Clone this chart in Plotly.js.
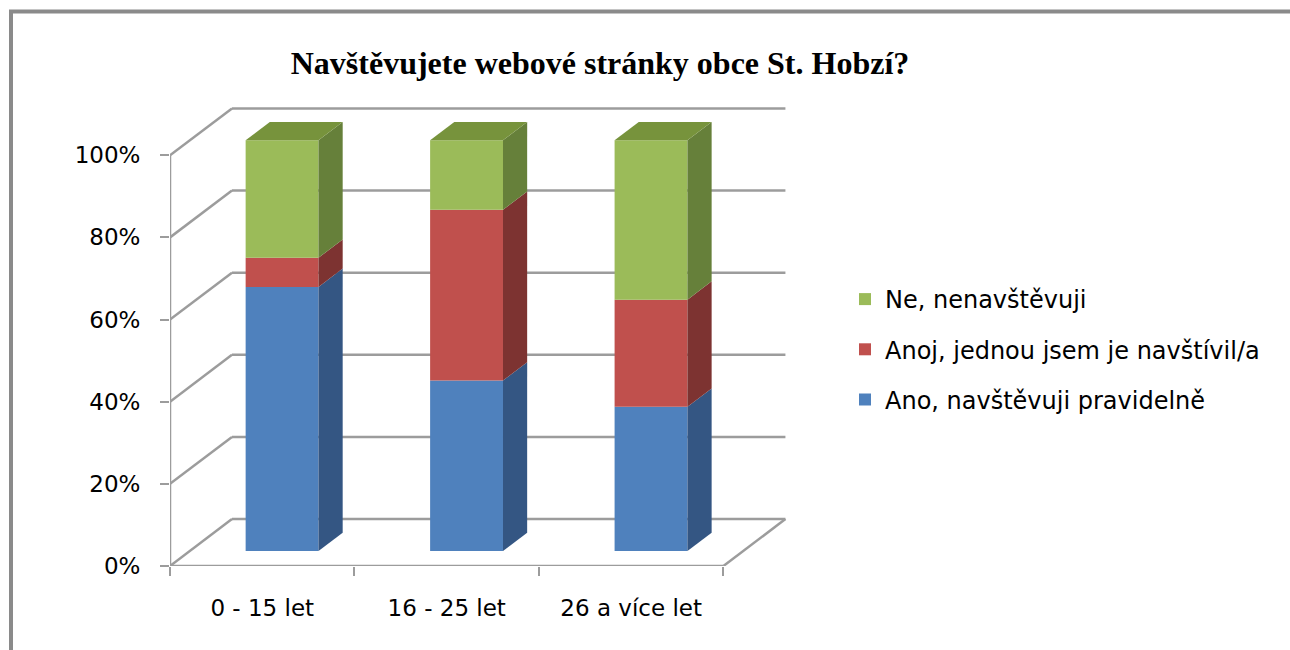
<!DOCTYPE html>
<html>
<head>
<meta charset="utf-8">
<script src="https://cdn.plot.ly/plotly-3.0.1.min.js"></script>
<style>html,body{margin:0;padding:0;background:#fff;}#chart{width:1290px;height:650px;}</style>
</head>
<body>
<div id="chart"></div>
<script>
// ---- data ----
const categories = ['0 - 15 let', '16 - 25 let', '26 a více let'];
const seriesNames = ['Ano, navštěvuji pravidelně', 'Anoj, jednou jsem je navštívil/a', 'Ne, nenavštěvuji'];
const anoPravidelne = [64.3, 41.5, 35.1];
const anojJednou = [7.1, 41.6, 26.1];
const neNenavstevuji = [28.6, 16.9, 38.8];
const yTickValues = [0, 20, 40, 60, 80, 100];
const yTickLabels = ['0%', '20%', '40%', '60%', '80%', '100%'];
const chartTitle = 'Navštěvujete webové stránky obce St. Hobzí?';

// ---- styling / pseudo-3D geometry ----
const frontColors = ['#4F81BD', '#C0504D', '#9BBB59'];
const sideColors = ['#345683', '#7D3331', '#66803A'];
const topColor = '#77933C';
const X_DEPTH = 0.336, Y_DEPTH = 11.42;   // full floor depth in axis units
const D_FRONT = 0.32, D_BACK = 0.71;      // bar depth position (fraction of floor)
const BAR_W = 0.395;
const X_MIN = -0.5, X_MAX = categories.length - 0.5;
const gridColor = '#9c9c9c';
const M = {l: 170, r: 502, t: 105.6, b: 83.5};
const FONT = '"DejaVu Sans", sans-serif';

const seriesValues = [anoPravidelne, anojJednou, neNenavstevuji];
const xFront = categories.map((c, i) => i + D_FRONT * X_DEPTH);
const yFrontOff = D_FRONT * Y_DEPTH;
const ddx = (D_BACK - D_FRONT) * X_DEPTH, ddy = (D_BACK - D_FRONT) * Y_DEPTH;

const traces = [];
const cum = categories.map(() => 0);
seriesValues.forEach((vals, s) => {
  const bases = cum.map(c => c + yFrontOff);
  traces.push({
    type: 'bar', x: xFront, y: vals, base: bases, width: BAR_W,
    name: seriesNames[s], legendgroup: 'g' + s, legendrank: 10 - s,
    marker: {color: frontColors[s], line: {width: 0}},
    hoverinfo: 'skip'
  });
  vals.forEach((v, i) => {
    const xr = xFront[i] + BAR_W / 2;
    const b = bases[i], t = bases[i] + v;
    traces.push({
      type: 'scatter', mode: 'lines', fill: 'toself', showlegend: false, hoverinfo: 'skip',
      x: [xr, xr + ddx, xr + ddx, xr, xr],
      y: [b, b + ddy, t + ddy, t, b],
      fillcolor: sideColors[s], line: {width: 0, color: sideColors[s]}
    });
  });
  vals.forEach((v, i) => { cum[i] += v; });
});
// top faces
categories.forEach((c, i) => {
  const xl = xFront[i] - BAR_W / 2, xr = xFront[i] + BAR_W / 2;
  const T = cum[i] + yFrontOff;
  traces.push({
    type: 'scatter', mode: 'lines', fill: 'toself', showlegend: false, hoverinfo: 'skip',
    x: [xl, xr, xr + ddx, xl + ddx, xl],
    y: [T, T, T + ddy, T + ddy, T],
    fillcolor: topColor, line: {width: 0, color: topColor}
  });
});

// walls / floor as shapes below the traces
const shapes = [];
const ln = (x0, y0, x1, y1) => ({type: 'line', xref: 'x', yref: 'y', x0, y0, x1, y1, layer: 'below',
  line: {color: gridColor, width: 2.5}});
yTickValues.forEach(v => {
  shapes.push(ln(X_MIN, v, X_MIN + X_DEPTH, v + Y_DEPTH));
  shapes.push(ln(X_MIN + X_DEPTH, v + Y_DEPTH, X_MAX + X_DEPTH, v + Y_DEPTH));
});
shapes.push(ln(X_MIN, 0, X_MAX, 0));
shapes.push(ln(X_MAX, 0, X_MAX + X_DEPTH, Y_DEPTH));
shapes.push(ln(X_MIN, 0, X_MIN, yTickValues[yTickValues.length - 1]));
// outer chart border
const pw = 1290 - M.l - M.r, ph = 650 - M.t - M.b;
shapes.push({type: 'rect', xref: 'paper', yref: 'paper', layer: 'above',
  x0: (11 - M.l) / pw, x1: (1320 - M.l) / pw,
  y0: (650 - M.b - 680) / ph, y1: (650 - M.b - 11) / ph,
  line: {color: '#8a8a8a', width: 4}, fillcolor: 'rgba(0,0,0,0)'});

const layout = {
  width: 1290, height: 650,
  margin: M,
  paper_bgcolor: '#fff', plot_bgcolor: 'rgba(0,0,0,0)',
  barmode: 'overlay',
  showlegend: true,
  title: {text: '<b>' + chartTitle + '</b>', font: {family: '"Liberation Serif", "Times New Roman", serif', size: 32, color: '#000'},
    xref: 'container', yref: 'container', x: 600 / 1290, y: 1 - 63 / 650, xanchor: 'center', yanchor: 'middle'},
  xaxis: {range: [X_MIN, X_MAX + 0.35], showgrid: false, zeroline: false, showline: false,
    tickmode: 'array', tickvals: categories.map((c, i) => i), ticktext: categories, ticks: '',
    ticklabelstandoff: 26,
    tickfont: {family: FONT, size: 23, color: '#000'},
    minor: {tickmode: 'array', tickvals: categories.map((c, i) => i - 0.5).concat([X_MAX]),
      ticks: 'outside', ticklen: 9, tickwidth: 2, tickcolor: gridColor, showgrid: false},
    fixedrange: true},
  yaxis: {range: [0, 112], showgrid: false, zeroline: false, showline: false,
    tickmode: 'array', tickvals: yTickValues, ticktext: yTickLabels,
    ticks: 'outside', ticklen: 9, tickwidth: 2, tickcolor: gridColor,
    ticklabelstandoff: 15,
    tickfont: {family: FONT, size: 23, color: '#000'}, fixedrange: true},
  legend: {xref: 'container', yref: 'container', x: 845 / 1290, y: 1 - 277 / 650, xanchor: 'left', yanchor: 'top',
    traceorder: 'grouped', tracegroupgap: 16,
    font: {family: FONT, size: 24, color: '#000'}, bgcolor: 'rgba(0,0,0,0)'},
  shapes: shapes
};

Plotly.newPlot('chart', traces, layout, {displayModeBar: false, staticPlot: true});
</script>
</body>
</html>
